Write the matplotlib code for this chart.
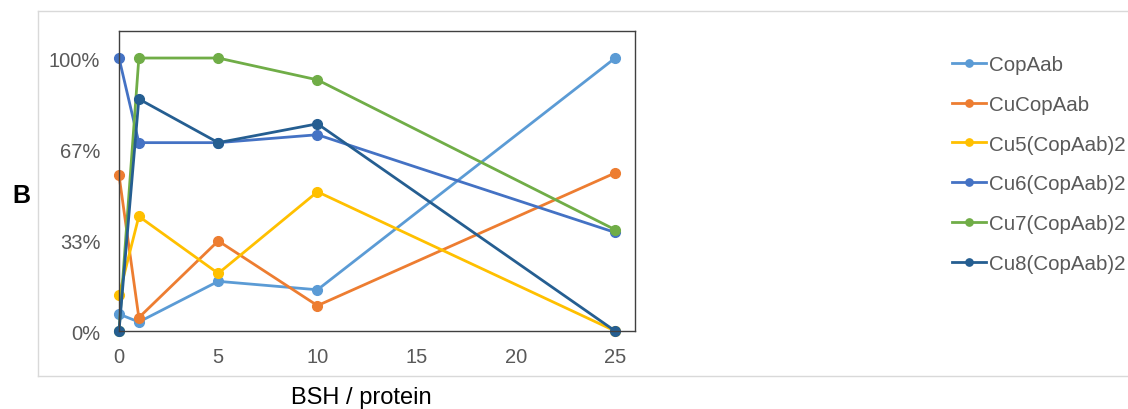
import matplotlib
matplotlib.use("Agg")
import matplotlib.pyplot as plt
from matplotlib.lines import Line2D

plt.rcParams['font.family'] = ['Liberation Sans', 'DejaVu Sans']

# BSH / protein ratio
x_vals = [0, 1, 5, 10, 25]

series_names = ["CopAab", "CuCopAab", "Cu5(CopAab)2", "Cu6(CopAab)2",
                "Cu7(CopAab)2", "Cu8(CopAab)2"]
copaab = [0.062, 0.033, 0.182, 0.151, 1.0]
cucopaab = [0.571, 0.049, 0.330, 0.093, 0.579]
cu5 = [0.132, 0.420, 0.211, 0.510, 0.0]
cu6 = [1.0, 0.690, 0.690, 0.719, 0.361]
cu7 = [0.0, 1.0, 1.0, 0.920, 0.371]
cu8 = [0.0, 0.850, 0.690, 0.759, 0.0]
series_values = [copaab, cucopaab, cu5, cu6, cu7, cu8]
colors = ["#5B9BD5", "#ED7D31", "#FFC000", "#4472C4", "#70AD47", "#255E91"]

y_ticks = [0, 1/3, 2/3, 1.0]
y_ticklabels = ["0%", "33%", "67%", "100%"]
x_ticks = [0, 5, 10, 15, 20, 25]

fig = plt.figure(figsize=(11.28, 4.10), dpi=100)

# outer frame of the chart area
frame_col = "#D9D9D9"
fl, fb, ft = 38 / 1128, 1 - 377 / 410, 1 - 12 / 410
for xs, ys in [([fl, 1.0], [ft, ft]), ([fl, 1.0], [fb, fb]), ([fl, fl], [fb, ft])]:
    fig.add_artist(Line2D(xs, ys, color=frame_col, lw=1.0, transform=fig.transFigure))

ax = fig.add_axes([119 / 1128, 1 - 332 / 410, (635 - 119) / 1128, (332 - 32) / 410])

handles = []
for name, vals, col in zip(series_names, series_values, colors):
    h, = ax.plot(x_vals, vals, color=col, lw=2.0, marker='o', markersize=7,
                 clip_on=False, label=name)
    handles.append(h)

ax.set_xlim(0, 26.0)
ax.set_ylim(0, 1.099)
ax.set_xticks(x_ticks)
ax.set_yticks(y_ticks)
ax.set_yticklabels(y_ticklabels)
ax.tick_params(axis='both', length=0, labelsize=14.5, labelcolor="#595959")
ax.tick_params(axis='y', pad=13.5)
ax.tick_params(axis='x', pad=11.5)
for sp in ax.spines.values():
    sp.set_color("#404040")
    sp.set_linewidth(1.0)

fig.text(21 / 1128, 1 - 196 / 410, "B", fontsize=18, fontweight='bold',
         ha='center', va='center', color='black')
fig.text(361 / 1128, 1 - 398 / 410, "BSH / protein", fontsize=17,
         ha='center', va='center', color='black')

fig.legend(handles=handles, loc='upper left',
           bbox_to_anchor=(952 / 1128, 1 - 56 / 410), frameon=False,
           borderpad=0, borderaxespad=0,
           fontsize=14.8, labelcolor="#595959", handlelength=1.65,
           handletextpad=0.15, labelspacing=1.01, markerscale=0.75)

fig.savefig("out.png", dpi=100)
